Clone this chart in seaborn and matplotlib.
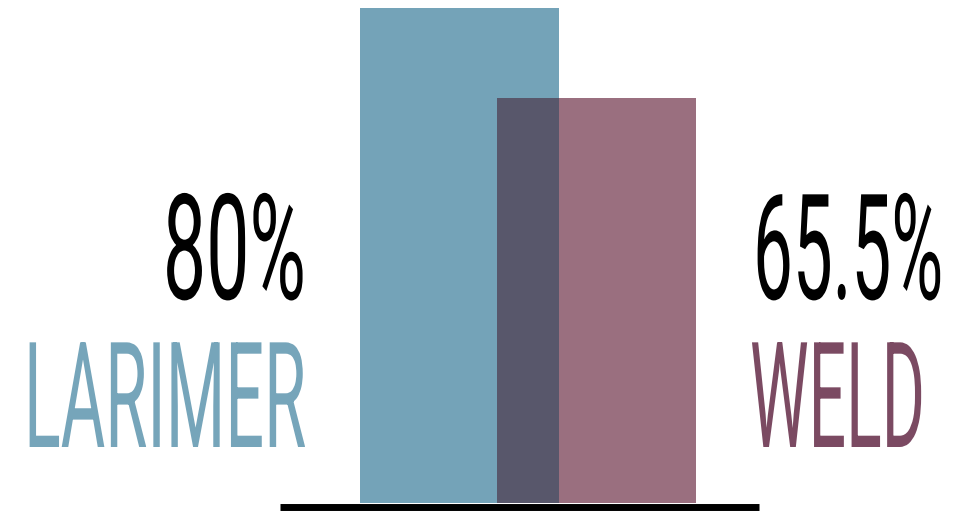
import matplotlib
matplotlib.use("Agg")
import matplotlib.pyplot as plt
import seaborn as sns
import pandas as pd
from matplotlib.patheffects import AbstractPathEffect
from matplotlib.transforms import Affine2D

# ---- data ----
counties = ["LARIMER", "WELD"]
values = [80.0, 65.5]
value_labels = ["80%", "65.5%"]
bar_colors = ["#74A3B8", "#9A6F7F"]
label_colors = ["#76A5BA", "#7B4A62"]
overlap_color = "#58576B"

df = pd.DataFrame({"county": counties, "value": values})

sns.set_theme(style="white")
plt.rcParams["font.family"] = ["Roboto", "DejaVu Sans"]

W, H = 956, 511
fig = plt.figure(figsize=(W / 100, H / 100), dpi=100)
ax = fig.add_axes([0, 0, 1, 1])

bw = 1.456
sns.barplot(data=df, x="county", y="value", hue="county", palette=bar_colors,
            width=bw, saturation=1, linewidth=0, legend=False, ax=ax)
# overlapping region of the two bars (darker blend)
ax.bar(0.5, min(values), width=bw - 1, color=overlap_color, linewidth=0, zorder=5)

spacing = 136.7
x0px = 459.5
ax.set_xlim(-x0px / spacing, (W - x0px) / spacing)
ppu = 495 / 80.0
ax.set_ylim(-8 / ppu, (H - 8) / ppu)
ax.axis("off")

# baseline rule
fig.add_artist(plt.Line2D([280 / W, 759 / W], [4.3 / H, 4.3 / H],
                          transform=fig.transFigure, color="black", lw=5.0,
                          solid_capstyle="butt"))


class Stretch(AbstractPathEffect):
    """Stretch glyphs vertically about the text baseline (condensed look)."""

    def __init__(self, sy, y0):
        super().__init__()
        self.sy = sy
        self.y0 = y0

    def draw_path(self, renderer, gc, tpath, affine, rgbFace=None):
        t = affine + Affine2D().translate(0, -self.y0).scale(1, self.sy).translate(0, self.y0)
        renderer.draw_path(gc, tpath, t, rgbFace)


BASE_FS = 106
specs = [
    # text, x px, baseline px from top, ha, color, target width
    (value_labels[0], 306, 299, "right", "black", 143),
    (counties[0], 306, 447, "right", label_colors[0], 282),
    (value_labels[1], 753, 299, "left", "black", 190),
    (counties[1], 750, 447, "left", label_colors[1], 175),
]
texts = []
for s, xp, yp, ha, c, tw in specs:
    t = fig.text(xp / W, (H - yp) / H, s, ha=ha, va="baseline", color=c,
                 fontsize=BASE_FS)
    texts.append((t, H - yp, tw))

fig.canvas.draw()
r = fig.canvas.get_renderer()
for t, y0, tw in texts:
    ext = t.get_window_extent(r)
    sx = tw / ext.width
    t.set_fontsize(BASE_FS * sx)
    t.set_path_effects([Stretch(1.0 / sx, y0)])

fig.savefig("out.png", dpi=100, facecolor="white")
